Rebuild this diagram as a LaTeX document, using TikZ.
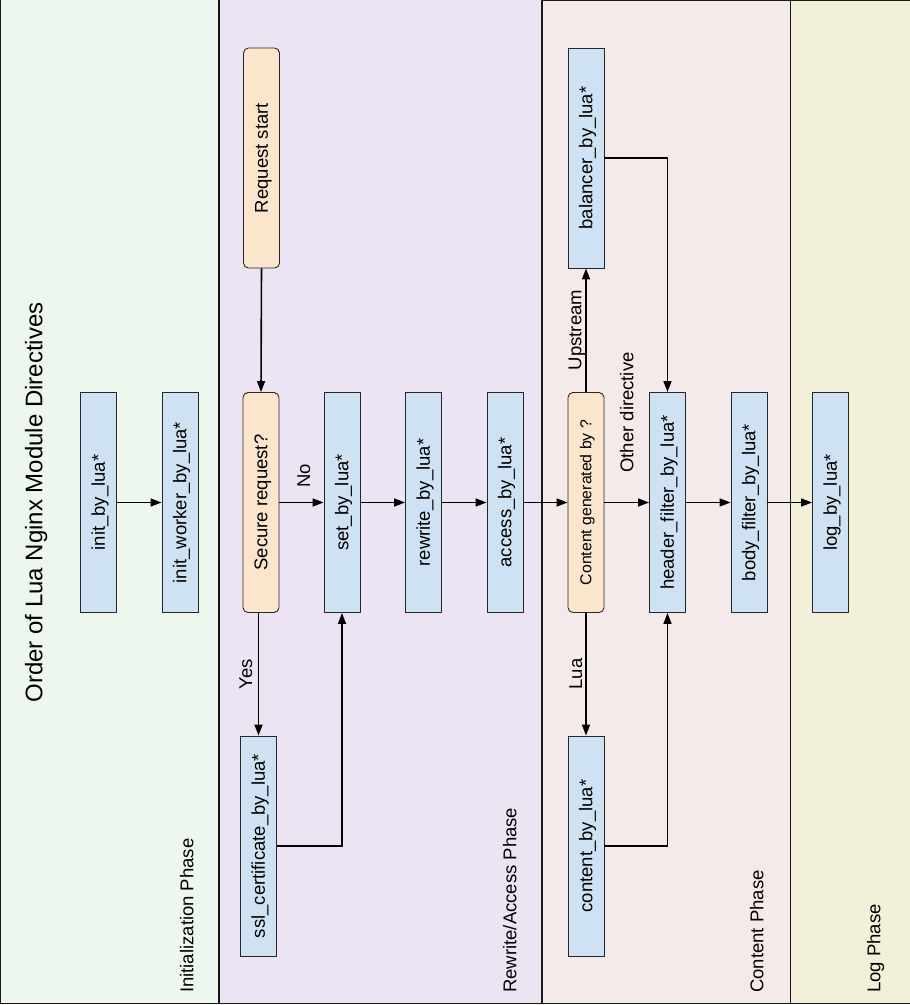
\documentclass[tikz,border=0pt]{standalone}
\usepackage{graphicx}
\usepackage{fontspec}
\setmainfont{Liberation Sans}
\usetikzlibrary{arrows.meta}
\definecolor{bluefill}{HTML}{CFE2F3}
\definecolor{orangefill}{HTML}{FCE5CD}
\definecolor{initbg}{RGB}{238,247,238}
\definecolor{rwbg}{RGB}{237,228,243}
\definecolor{contbg}{RGB}{244,234,234}
\definecolor{logbg}{RGB}{243,240,217}
\newcommand{\vtext}[1]{\rotatebox{90}{\rule[-0.212em]{0pt}{1.117em}#1}}
\begin{document}
\begin{tikzpicture}[x=1pt,y=-1pt,
  box/.style={draw=black!85, line width=0.9pt, fill=bluefill, minimum width=36pt, minimum height=220pt, inner sep=0pt, font=\fontsize{18.5}{22}\selectfont},
  decision/.style={box, fill=orangefill, rounded corners=5pt},
  flow/.style={line width=1.6pt, -{Triangle[length=11pt,width=8pt]}},
  link/.style={line width=1.6pt},
  lbl/.style={inner sep=0pt, font=\fontsize{18.5}{22}\selectfont},
  phase/.style={lbl, anchor=south},
  panel/.style={draw=black!90, line width=1.3pt}
]
\useasboundingbox (0,0) rectangle (910,1005);
% panels
\filldraw[panel, fill=initbg] (0.6,-5) rectangle (219,1003.5);
\filldraw[panel, fill=rwbg] (219,-5) rectangle (542,1003.5);
\filldraw[panel, fill=contbg] (542,0.6) rectangle (790.5,1003.5);
\filldraw[panel, fill=logbg] (790.5,0.6) rectangle (920,1003.5);

% title and phase labels
\node[inner sep=0pt, font=\fontsize{24}{28}\selectfont] (title) at (34,502.5) {\vtext{Order of Lua Nginx Module Directives}};
\node[phase] (pinit) at (187,993) {\vtext{Initialization Phase}};
\node[phase] (prw) at (510,993) {\vtext{Rewrite/Access Phase}};
\node[phase] (pcont) at (757,993) {\vtext{Content Phase}};
\node[phase] (plog) at (874,993) {\vtext{Log Phase}};

% nodes
\node[box] (init) at (98.5,502.5) {\vtext{init\_by\_lua*}};
\node[box] (initw) at (180,502.5) {\vtext{init\_worker\_by\_lua*}};
\node[decision] (req) at (261.5,158) {\vtext{Request start}};
\node[decision] (secure) at (261,502.5) {\vtext{Secure request?}};
\node[box] (set) at (342,502.5) {\vtext{set\_by\_lua*}};
\node[box] (rewrite) at (423.5,502.5) {\vtext{rewrite\_by\_lua*}};
\node[box] (access) at (505,502.5) {\vtext{access\_by\_lua*}};
\node[box] (ssl) at (258.5,846) {\vtext{ssl\_certificate\_by\_lua*}};
\node[box] (balancer) at (586,158) {\vtext{balancer\_by\_lua*}};
\node[decision, font=\fontsize{15.8}{19}\selectfont] (cgen) at (586,502.5) {\vtext{Content generated by ?}};
\node[box] (content) at (586,846) {\vtext{content\_by\_lua*}};
\node[box] (header) at (667.5,502.5) {\vtext{header\_filter\_by\_lua*}};
\node[box] (body) at (749,502.5) {\vtext{body\_filter\_by\_lua*}};
\node[box] (log) at (830.5,502.5) {\vtext{log\_by\_lua*}};

% connectors
\draw[flow] (init.east) -- (initw.west);
\draw[flow] (req.south) -- (secure.north);
\draw[flow] (secure.east) -- (set.west);
\draw[flow] (set.east) -- (rewrite.west);
\draw[flow] (rewrite.east) -- (access.west);
\draw[flow] (access.east) -- (cgen.west);
\draw[flow] (cgen.east) -- (header.west);
\draw[flow] (header.east) -- (body.west);
\draw[flow] (body.east) -- (log.west);
\draw[flow] (ssl.north |- secure.south) -- (ssl.north);
\draw[flow] (ssl.east) -| (set.south);
\draw[flow] (cgen.north) -- (balancer.south);
\draw[flow] (cgen.south) -- (content.north);
\draw[flow] (balancer.east) -| (header.north);
\draw[flow] (content.east) -| (header.south);

% connector labels
\node[lbl] (lno) at (303.6,476) {\vtext{No}};
\node[lbl] (lyes) at (245.6,674) {\vtext{Yes}};
\node[lbl] (lup) at (575,330) {\vtext{Upstream}};
\node[lbl] (lother) at (627,412.5) {\vtext{Other directive}};
\node[lbl] (llua) at (575.6,674) {\vtext{Lua}};
\end{tikzpicture}
\end{document}
